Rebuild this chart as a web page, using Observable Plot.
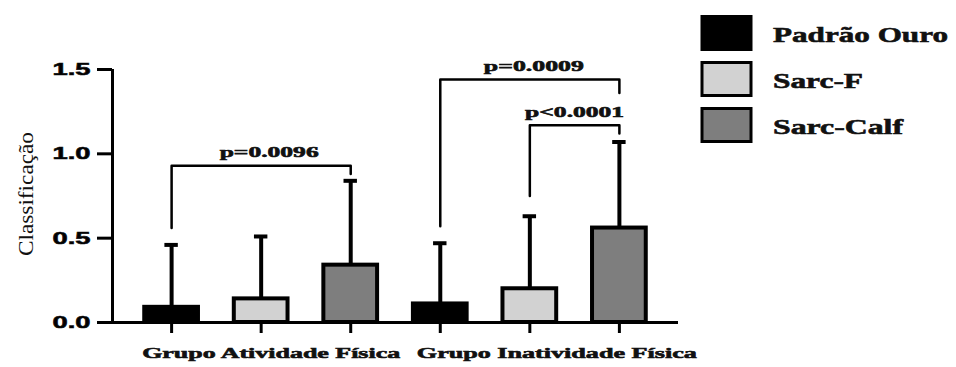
<!DOCTYPE html>
<html><head><meta charset="utf-8">
<script src="https://cdn.jsdelivr.net/npm/d3@7"></script>
<script src="https://cdn.jsdelivr.net/npm/@observablehq/plot@0.6"></script>
<style>
body{margin:0;background:#fff}
#wrap{position:relative;width:956px;height:367px;overflow:hidden}
#legend{position:absolute;left:690px;top:0}
</style>
</head><body><div id="wrap"></div>
<script>
const groups = ["Grupo Atividade Física", "Grupo Inatividade Física"];
const series = ["Padrão Ouro", "Sarc-F", "Sarc-Calf"];
const colors = ["#000000", "#d2d2d2", "#7e7e7e"];
const meanAtividade = [0.09, 0.14, 0.34];
const sdAtividade = [0.37, 0.37, 0.50];
const meanInatividade = [0.11, 0.20, 0.56];
const sdInatividade = [0.36, 0.43, 0.51];
const yTicks = [0, 0.5, 1.0, 1.5];
const compLabels = ["p=0.0096", "p=0.0009", "p<0.0001"];
const compGroup = [0, 1, 1];
const compFrom = [0, 0, 1];
const compTo = [2, 2, 2];
const compTop = [0.93, 1.44, 1.17];
const compFromEnd = [0.56, 0.57, 0.75];
const compToEnd = [0.88, 1.36, 1.12];

const means = [meanAtividade, meanInatividade];
const sds = [sdAtividade, sdInatividade];
const rows = [];
groups.forEach((g, gi) => series.forEach((s, si) => {
  rows.push({group: g, series: s, pos: gi * series.length + si + 1, mean: means[gi][si], sd: sds[gi][si]});
}));
const posOf = (gi, si) => gi * series.length + si + 1;
const bracketPts = [];
compLabels.forEach((lab, k) => {
  const a = posOf(compGroup[k], compFrom[k]), b = posOf(compGroup[k], compTo[k]);
  bracketPts.push({k, x: a, y: compFromEnd[k]}, {k, x: a, y: compTop[k]},
                  {k, x: b, y: compTop[k]}, {k, x: b, y: compToEnd[k]});
});
const compRows = compLabels.map((lab, k) => ({label: lab,
  x: (posOf(compGroup[k], compFrom[k]) + posOf(compGroup[k], compTo[k])) / 2, y: compTop[k]}));
const groupRows = groups.map((g, gi) => ({label: g, x: d3.mean(rows.filter(r => r.group === g), r => r.pos)}));

const xMin = 0.34, xMax = 6.66, half = 0.3, capHalf = 0.075;
const labelOffsets = [10, 27];
const compOffsets = [8, 4, 0];

const chart = Plot.plot({
  width: 956, height: 367,
  marginLeft: 112, marginRight: 278, marginTop: 69, marginBottom: 45,
  style: {fontFamily: "Liberation Serif", background: "#fff", overflow: "visible"},
  x: {type: "linear", domain: [xMin, xMax], axis: null},
  y: {domain: [0, 1.5], axis: null},
  color: {domain: series, range: colors},
  marks: [
    Plot.ruleX(rows, {x: "pos", y1: "mean", y2: d => d.mean + d.sd, strokeWidth: 4, stroke: "black"}),
    Plot.ruleY(rows, {y: d => d.mean + d.sd, x1: d => d.pos - capHalf, x2: d => d.pos + capHalf, strokeWidth: 4, stroke: "black"}),
    Plot.rectY(rows, {x1: d => d.pos - half, x2: d => d.pos + half, y1: 0, y2: "mean", fill: "series", stroke: "black", strokeWidth: 4}),
    Plot.ruleY([0], {strokeWidth: 3, stroke: "black"}),
    Plot.ruleX([xMin], {strokeWidth: 3, stroke: "black"}),
    Plot.axisY({ticks: yTicks, tickFormat: d => d.toFixed(1), tickSize: 15, tickPadding: 7,
      fontSize: 17, fontWeight: "bold", fontFamily: "Liberation Sans", strokeWidth: 3, label: null, stroke: "black", fill: "black"}),
    Plot.axisX({ticks: rows.map(r => r.pos), tickFormat: () => "", tickSize: 11, strokeWidth: 3, label: null, stroke: "black"}),
    ...groupRows.map((g, i) => Plot.text([g], {x: "x", text: "label", frameAnchor: "bottom", dy: 35, dx: labelOffsets[i],
      fontSize: 15, fontWeight: "bold", fill: "#111"})),
    Plot.line(bracketPts, {x: "x", y: "y", z: "k", stroke: "black", strokeWidth: 2.5}),
    ...compRows.map((c, i) => Plot.text([c], {x: "x", y: "y", text: "label", dy: -13, dx: compOffsets[i],
      fontSize: 15, fontWeight: "bold", fill: "#111"})),
    Plot.text(["Classificação"], {frameAnchor: "left", textAnchor: "middle", dx: -87, dy: -2, rotate: -90, fontSize: 22, fill: "#111"})
  ]
});

const lengths = {"0.0": 38, "0.5": 38, "1.0": 38, "1.5": 38,
  "Grupo Atividade Física": 258, "Grupo Inatividade Física": 280,
  "p=0.0096": 99, "p=0.0009": 100, "p<0.0001": 99, "Classificação": 124};
d3.select(chart).selectAll("text").each(function() {
  const t = this.textContent;
  if (lengths[t]) {
    this.setAttribute("textLength", lengths[t]); this.setAttribute("lengthAdjust", "spacingAndGlyphs");
    if (t !== "Classificação") { this.setAttribute("stroke", "#111"); this.setAttribute("stroke-width", 0.6); }
  }
});
document.getElementById("wrap").appendChild(chart);

// legend
const legLengths = [175, 90, 130];
const leg = d3.select("#wrap").append("svg").attr("id", "legend").attr("width", 266).attr("height", 160);
series.forEach((s, i) => {
  const y0 = 15 + i * 46;
  leg.append("rect").attr("x", 12).attr("y", y0 + 1.5).attr("width", 49).attr("height", 33)
    .attr("fill", colors[i]).attr("stroke", "black").attr("stroke-width", 3);
  leg.append("text").attr("x", 83).attr("y", y0 + 27).text(s)
    .attr("font-family", "Liberation Serif").attr("font-weight", "bold").attr("font-size", 22).attr("fill", "#111")
    .attr("stroke", "#111").attr("stroke-width", 0.6)
    .attr("textLength", legLengths[i]).attr("lengthAdjust", "spacingAndGlyphs");
});
</script></body></html>
